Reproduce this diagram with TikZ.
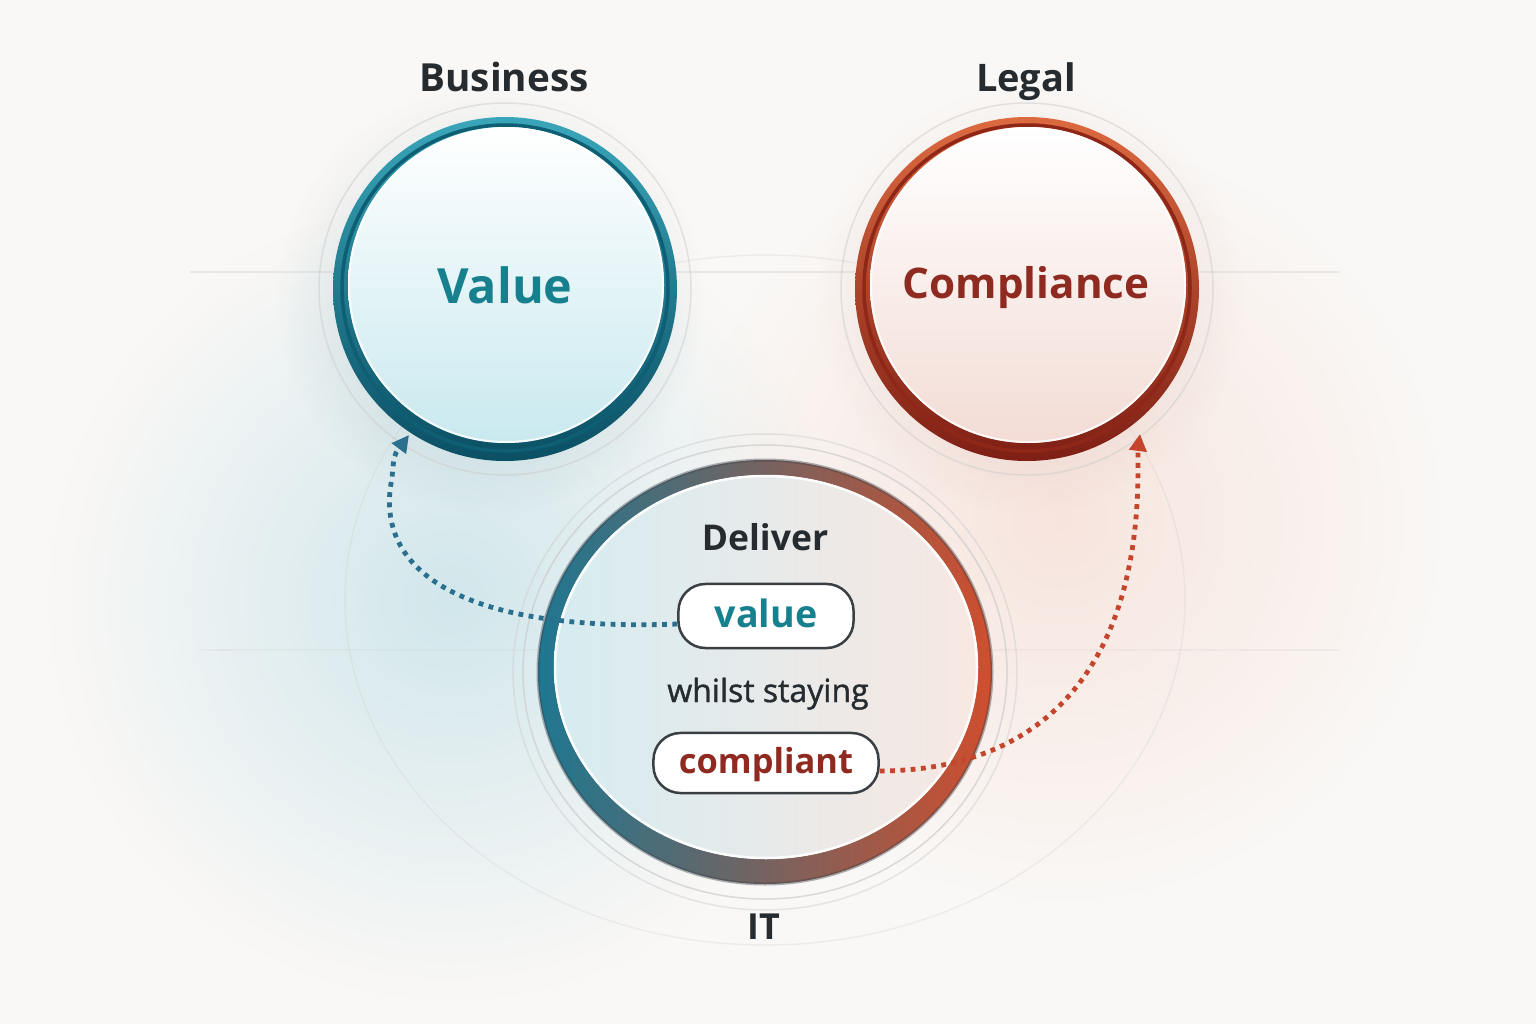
\documentclass[tikz,border=0pt]{standalone}
\usepackage{fontspec}
\setmainfont{Open Sans}
\newfontfamily\semib[FakeBold=1.2]{Open Sans}
\usetikzlibrary{arrows.meta,calc,shapes.geometric,fadings}
\definecolor{bg}{HTML}{FAF8F6}
\definecolor{darktext}{HTML}{262B30}
\definecolor{tealtext}{HTML}{17808F}
\definecolor{redtext}{HTML}{8E2A20}
\definecolor{tealtop}{HTML}{3AA6BA}
\definecolor{tealbot}{HTML}{0B4F63}
\definecolor{tealband}{HTML}{0E5E74}
\definecolor{tealface}{HTML}{C9E9EF}
\definecolor{redtop}{HTML}{DC6A40}
\definecolor{redbot}{HTML}{7E1F15}
\definecolor{redband}{HTML}{8F2718}
\definecolor{redface}{HTML}{F3DCD5}
\definecolor{ringL}{HTML}{1E7791}
\definecolor{ringM}{HTML}{3A3F47}
\definecolor{ringR}{HTML}{CF4E2E}
\definecolor{faceL}{HTML}{D6ECF1}
\definecolor{faceM}{HTML}{F6F7F8}
\definecolor{faceR}{HTML}{F8E8E2}
\definecolor{pillline}{HTML}{3A3F44}
\definecolor{dotteal}{HTML}{2A6F8E}
\definecolor{dotred}{HTML}{C4452C}
\definecolor{hazeteal}{HTML}{A9D6E2}
\definecolor{hazered}{HTML}{F4CDBF}
\tikzfading[name=glowfade, inner color=transparent!0, outer color=transparent!100]
\tikzset{
  lab/.style={font=\bfseries\fontsize{11}{13}\selectfont, text=darktext, inner sep=0, anchor=base},
  bigword/.style={font=\bfseries\fontsize{13.8}{16}\selectfont, inner sep=0, anchor=base},
  pillbox/.style={draw=pillline, line width=0.025cm, rounded corners=0.27cm, fill=white, inner sep=0},
  dotline/.style={line width=0.048cm, dash pattern=on 0.048cm off 0.055cm},
  faint/.style={draw=gray!40, line width=0.015cm},
}
\begin{document}
\begin{tikzpicture}[x=0.01cm, y=-0.01cm]
\useasboundingbox (0,0) rectangle (1536,1024);
\fill[bg] (0,0) rectangle (1536,1024);

% background haze
\fill[hazeteal, path fading=glowfade, opacity=0.5] (450,600) circle (400);
\fill[hazered, path fading=glowfade, opacity=0.45] (1060,520) circle (380);
\fill[tealbot, path fading=glowfade, opacity=0.22] (490,300) circle (215);
\fill[redbot, path fading=glowfade, opacity=0.15] (1030,300) circle (215);

% faint background lines
\draw[faint, opacity=0.35] (190,272) -- (1340,272);
\draw[faint, opacity=0.2] (200,650) -- (1340,650);

% faint rings
\draw[faint, opacity=0.5] (505,289) circle (186);
\draw[faint, opacity=0.5] (1027,289) circle (186);
\draw[faint, opacity=0.7] (765,672) ellipse (242 and 227);
\draw[faint, opacity=0.45] (765,672) ellipse (252 and 238);
\draw[faint, opacity=0.25] (765,600) ellipse (420 and 345);

% ---- Business circle ----
\shade[top color=tealtop, bottom color=tealbot] (505,289) circle (172);
\draw[tealband, line width=0.035cm] (505,288) circle (163);
\shade[top color=white, bottom color=tealface] (506,285) circle (158);
\draw[white, opacity=0.8, line width=0.02cm] (506,285) circle (157);
\node[circle, minimum size=3.44cm, inner sep=0] (biz) at (505,289) {};

% ---- Legal circle ----
\shade[top color=redtop, bottom color=redbot] (1027,289) circle (172);
\draw[redband, line width=0.035cm] (1027,288) circle (163);
\shade[top color=white, bottom color=redface] (1028,285) circle (158);
\draw[white, opacity=0.8, line width=0.02cm] (1028,285) circle (157);
\node[circle, minimum size=3.44cm, inner sep=0] (legal) at (1027,289) {};

% ---- IT circle ----
\shade[left color=ringL, middle color=ringM, right color=ringR, even odd rule]
  (765,672) ellipse (227 and 212) (766,667) ellipse (212 and 192);
\draw[ringM, opacity=0.4, line width=0.03cm] (765,672) ellipse (227 and 212);
\shade[left color=faceL, middle color=faceM, right color=faceR] (766,667) ellipse (212 and 192);
\draw[white, opacity=0.9, line width=0.025cm] (766,667) ellipse (211 and 191);
\node[ellipse, minimum width=4.54cm, minimum height=4.24cm, inner sep=0] (itc) at (765,672) {};

% ---- Titles ----
\node[lab] (business) at (504,91) {Business};
\node[lab, font=\bfseries\fontsize{10.8}{13}\selectfont] (legallab) at (1026,91) {Legal};
\node[lab, font=\bfseries\fontsize{10.2}{12}\selectfont] (itlab) at (764,939) {IT};

% ---- big words ----
\node[bigword, text=tealtext] (valueword) at (505,303) {Value};
\node[bigword, text=redtext, font=\bfseries\fontsize{12}{14}\selectfont] (compword) at (1026,298) {Compliance};

% ---- inner texts ----
\node[lab, font=\bfseries\fontsize{10.1}{12}\selectfont] (deliver) at (765,550) {Deliver};
\node[pillbox, minimum width=1.75cm, minimum height=0.64cm] (valpill) at (766,616) {};
\node[inner sep=0, anchor=base, text=tealtext, font=\bfseries\fontsize{10.7}{12}\selectfont] (valword) at (766,627) {value};
\node[inner sep=0, anchor=base, text=darktext, font=\semib\fontsize{9.1}{11}\selectfont] (whilst) at (768,702) {whilst staying};
\node[pillbox, minimum width=2.25cm, minimum height=0.60cm] (comppill) at (766,763) {};
\node[inner sep=0, anchor=base, text=redtext, font=\bfseries\fontsize{9.8}{11}\selectfont] (compwd) at (766,773) {compliant};

% ---- connectors ----
\coordinate (tipL) at (409,435);
\coordinate (tipR) at (1140,434);
\draw[dotline, dotteal, -{Triangle[length=0.17cm, width=0.17cm]}]
  ([yshift=-0.08cm]valpill.west) .. controls (470,632) and (372,575) .. (392,478)
  .. controls (394,455) .. (tipL);
\draw[dotline, dotred, -{Triangle[length=0.17cm, width=0.17cm]}]
  ([yshift=-0.08cm]comppill.east) .. controls (1050,770) and (1138,660) .. (1138,470)
  .. controls (1138,450) .. (tipR);
\end{tikzpicture}
\end{document}
